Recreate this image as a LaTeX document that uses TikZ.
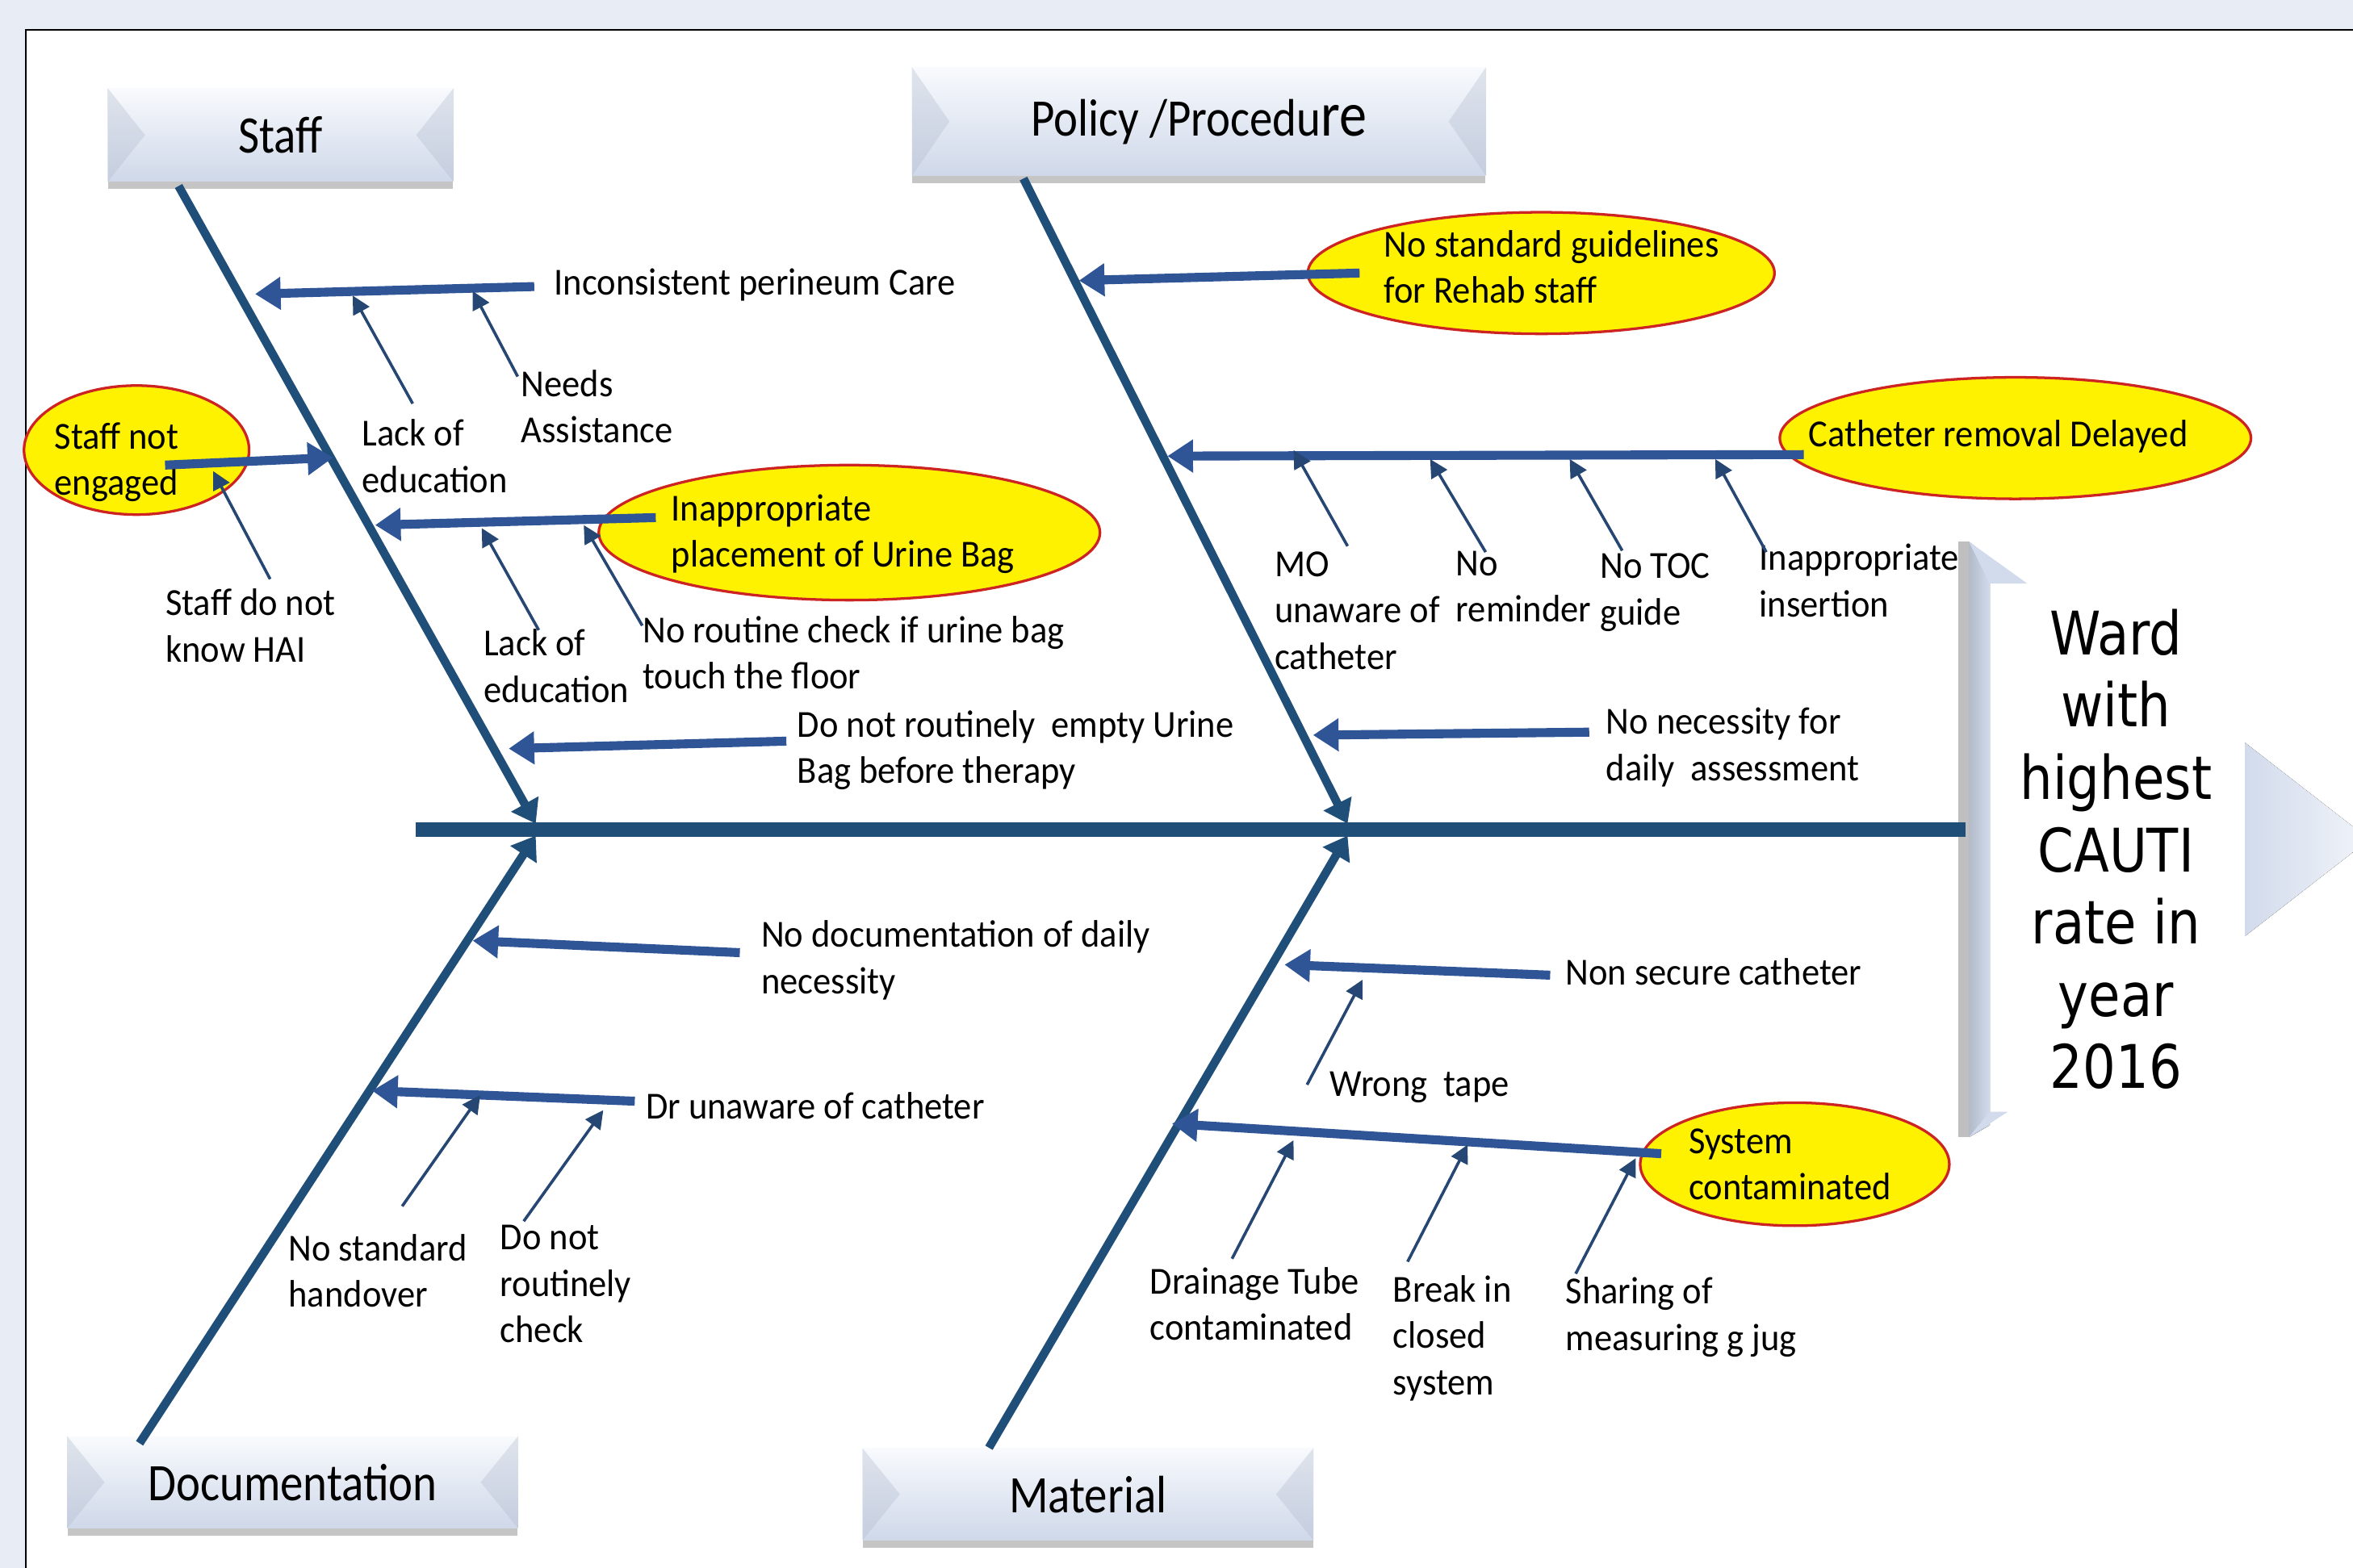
\documentclass[tikz,border=0pt]{standalone}
\usepackage{fontspec}
\setmainfont{Carlito}[FakeStretch=0.94]
\newfontfamily\boxfont{Carlito}[FakeStretch=0.87]
\newfontfamily\wardfont{DejaVu Sans}[FakeStretch=0.86]
\usetikzlibrary{arrows.meta, shapes.geometric, shadows}

\definecolor{spineblue}{RGB}{31,78,121}
\definecolor{causeblue}{RGB}{47,85,151}
\definecolor{thinblue}{RGB}{38,70,115}
\definecolor{ovalred}{RGB}{205,35,35}
\definecolor{pagebg}{RGB}{232,237,245}
\definecolor{boxtop}{RGB}{248,250,253}
\definecolor{boxbottom}{RGB}{207,216,233}
\definecolor{bevel}{RGB}{178,187,206}
\definecolor{headblue}{RGB}{210,219,236}

\tikzset{
	bone/.style = {line width = 3.2pt, spineblue, -{Triangle[length = 3mm, width = 4mm]}},
	cause/.style = {line width = 3.4pt, causeblue, -{Triangle[length = 3.4mm, width = 4.2mm]}},
	subcause/.style = {line width = 1.1pt, thinblue, -{Triangle[length = 2.4mm, width = 2.4mm]}},
	txt/.style = {inner sep = 0pt, align = left, anchor = west, font = \fontsize{14.5}{17.6}\selectfont},
	causeoval/.style = {ellipse, draw = ovalred, fill = yellow, line width = 1pt, inner sep = 0pt},
	catbox/.style = {rectangle, top color = boxtop, middle color = boxbottom!70!white, bottom color = boxbottom, drop shadow = {shadow xshift = 0pt, shadow yshift = -1mm, fill = black!45, opacity = 0.5}, font = \boxfont\fontsize{20}{24}\selectfont}
}

\begin{document}
\begin{tikzpicture}[x = 0.2mm, y = -0.2mm]
	\useasboundingbox (0, 0) rectangle (1568, 1045);
	\clip (0, 0) rectangle (1568, 1045);
	\fill[pagebg] (0, 0) rectangle (1568, 1045);
	\fill[white] (17, 20) rectangle (1568, 1045);
	\draw[black, line width = 0.6pt] (17, 1045) -- (17, 20) -- (1568, 20);
	
	\fill[black!25] (1305, 361) rectangle (1312, 758);
	\fill[left color = headblue!85!black, right color = headblue] (1312, 361) -- (1326, 372) -- (1326, 750) -- (1312, 758) -- cycle;
	\fill[headblue] (1312, 361) -- (1351, 389) -- (1326, 389) -- cycle;
	\fill[headblue] (1312, 758) -- (1338, 741) -- (1326, 741) -- cycle;
	\fill[left color = headblue, right color = headblue!40!white] (1496, 495) -- (1568, 551) -- (1568, 568) -- (1496, 624) -- cycle;
	\node[font = \wardfont\fontsize{22.8}{27.4}\selectfont, align = center, inner sep = 0pt] (ward) at (1410, 566) {Ward\\with\\highest\\CAUTI\\rate in\\year\\2016};
	
	\node[catbox, minimum width = 46mm, minimum height = 12.4mm] (staff) at (187, 90) {Staff};
	\node[catbox, minimum width = 76.4mm, minimum height = 14.4mm] (policy) at (799, 81) {Policy /Procedu{\fontsize{24}{24}\selectfont re}};
	\node[catbox, minimum width = 60mm, minimum height = 12.2mm] (documentation) at (195, 988) {Documentation};
	\node[catbox, minimum width = 60mm, minimum height = 12.2mm] (material) at (725, 996) {Material};
	\foreach \b in {staff, policy, documentation, material}
	{
		\fill[bevel, opacity = 0.35] (\b.north west) -- ([xshift = 5mm]\b.west) -- (\b.south west) -- cycle;
		\fill[bevel, opacity = 0.35] (\b.north east) -- ([xshift = -5mm]\b.east) -- (\b.south east) -- cycle;
	}
	
	\coordinate (spineStart) at (277, 553);
	\coordinate (spineEnd) at (1310, 553);
	\coordinate (staffTop) at (119, 124);
	\coordinate (staffEnd) at (357, 549);
	\coordinate (policyTop) at (682, 119);
	\coordinate (policyEnd) at (898, 549);
	\coordinate (docBottom) at (93, 962);
	\coordinate (docEnd) at (357, 557);
	\coordinate (materialBottom) at (659, 965);
	\coordinate (materialEnd) at (898, 557);
	
	\draw[line width = 5.6pt, spineblue] (spineStart) -- (spineEnd);
	\draw[bone] (staffTop) -- (staffEnd);
	\draw[bone] (policyTop) -- (policyEnd);
	\draw[bone] (docBottom) -- (docEnd);
	\draw[bone] (materialBottom) -- (materialEnd);
	
	\node[causeoval, minimum width = 30mm, minimum height = 17.2mm] (engagedOval) at (91, 300) {};
	\node[causeoval, minimum width = 66.8mm, minimum height = 18mm] (urineOval) at (566, 355) {};
	\node[causeoval, minimum width = 62.2mm, minimum height = 16.2mm] (guidelinesOval) at (1027, 182) {};
	\node[causeoval, minimum width = 62.8mm, minimum height = 16.2mm] (removalOval) at (1343, 292) {};
	\node[causeoval, minimum width = 41.2mm, minimum height = 16.4mm] (systemOval) at (1196, 776) {};
	
	\node[txt] (inconsistent) at (369, 190) {Inconsistent perineum Care};
	\node[txt] (needs) at (347, 271) {Needs\\Assistance};
	\node[txt] (lackA) at (241, 304) {Lack of\\education};
	\node[txt] (engaged) at (36, 308) {Staff not\\engaged};
	\node[txt] (knowHAI) at (110, 417) {Staff do not\\know HAI};
	\node[txt] (urineBag) at (447, 356) {Inappropriate\\placement of Urine Bag};
	\node[txt] (lackB) at (322, 444) {Lack of\\education};
	\node[txt] (routineCheck) at (428, 435) {No routine check if urine bag\\touch the floor};
	\node[txt] (emptyBag) at (531, 500) {Do not routinely\hspace{0.2em} empty Urine\\Bag before therapy};
	
	\node[txt] (guidelines) at (922, 178) {No standard guidelines\\for Rehab staff};
	\node[txt] (removal) at (1205, 291) {Catheter removal Delayed};
	\node[txt] (moUnaware) at (849, 407) {MO\\unaware of\\catheter};
	\node[txt] (reminder) at (970, 391) {No\\reminder};
	\node[txt] (tocGuide) at (1066, 395) {No TOC\\guide};
	\node[txt] (insertion) at (1172, 387) {Inappropriate\\insertion};
	\node[txt] (necessity) at (1070, 498) {No necessity for\\daily\hspace{0.2em} assessment};
	
	\node[txt] (docNecessity) at (507, 640) {No documentation of daily\\necessity};
	\node[txt] (drUnaware) at (430, 737) {Dr unaware of catheter};
	\node[txt] (handover) at (192, 847) {No standard\\handover};
	\node[txt] (routineB) at (333, 856) {Do not\\routinely\\check};
	
	\node[txt] (nonSecure) at (1043, 648) {Non secure catheter};
	\node[txt] (wrongTape) at (886, 725) {Wrong\hspace{0.2em} tape};
	\node[txt] (contaminated) at (1125, 776) {System\\contaminated};
	\node[txt] (drainage) at (766, 869) {Drainage Tube\\contaminated};
	\node[txt] (breakIn) at (928, 892) {Break in\\closed\\system};
	\node[txt] (sharing) at (1043, 878) {Sharing of\\measuring g jug};
	
	\coordinate (inconsistentTail) at (356, 191);
	\coordinate (inconsistentTip) at (170, 196);
	\coordinate (engagedTail) at (110, 310);
	\coordinate (engagedTip) at (222, 305);
	\coordinate (urineBagTail) at (437, 345);
	\coordinate (urineBagTip) at (250, 350);
	\coordinate (emptyBagTail) at (524, 494);
	\coordinate (emptyBagTip) at (339, 499);
	\coordinate (guidelinesTail) at (906, 182);
	\coordinate (guidelinesTip) at (719, 187);
	\coordinate (removalTail) at (1202, 303);
	\coordinate (removalTip) at (778, 304);
	\coordinate (necessityTail) at (1059, 488);
	\coordinate (necessityTip) at (875, 490);
	\coordinate (docNecessityTail) at (493, 635);
	\coordinate (docNecessityTip) at (315, 627);
	\coordinate (drUnawareTail) at (423, 734);
	\coordinate (drUnawareTip) at (248, 727);
	\coordinate (nonSecureTail) at (1033, 650);
	\coordinate (nonSecureTip) at (856, 643);
	\coordinate (contaminatedTail) at (1107, 769);
	\coordinate (contaminatedTip) at (781, 749);
	
	\foreach \c in {inconsistent, engaged, urineBag, emptyBag, guidelines, removal, necessity, docNecessity, drUnaware, nonSecure, contaminated}
	\draw[cause] (\c Tail) -- (\c Tip);
	
	\coordinate (lackATail) at (275, 269);
	\coordinate (lackATip) at (235, 197);
	\coordinate (needsTail) at (345, 251);
	\coordinate (needsTip) at (315, 194);
	\coordinate (knowHAITail) at (180, 386);
	\coordinate (knowHAITip) at (142, 314);
	\coordinate (lackBTail) at (359, 420);
	\coordinate (lackBTip) at (321, 352);
	\coordinate (routineCheckTail) at (428, 417);
	\coordinate (routineCheckTip) at (389, 350);
	\coordinate (moUnawareTail) at (898, 364);
	\coordinate (moUnawareTip) at (862, 300);
	\coordinate (reminderTail) at (990, 368);
	\coordinate (reminderTip) at (953, 306);
	\coordinate (tocGuideTail) at (1081, 367);
	\coordinate (tocGuideTip) at (1046, 306);
	\coordinate (insertionTail) at (1177, 368);
	\coordinate (insertionTip) at (1143, 306);
	\coordinate (handoverTail) at (268, 804);
	\coordinate (handoverTip) at (320, 730);
	\coordinate (routineBTail) at (349, 814);
	\coordinate (routineBTip) at (402, 740);
	\coordinate (wrongTapeTail) at (871, 723);
	\coordinate (wrongTapeTip) at (908, 653);
	\coordinate (drainageTail) at (821, 839);
	\coordinate (drainageTip) at (862, 760);
	\coordinate (breakInTail) at (938, 841);
	\coordinate (breakInTip) at (978, 763);
	\coordinate (sharingTail) at (1050, 849);
	\coordinate (sharingTip) at (1090, 772);
	
	\foreach \c in {lackA, needs, knowHAI, lackB, routineCheck, moUnaware, reminder, tocGuide, insertion, handover, routineB, wrongTape, drainage, breakIn, sharing}
	\draw[subcause] (\c Tail) -- (\c Tip);
\end{tikzpicture}
\end{document}
